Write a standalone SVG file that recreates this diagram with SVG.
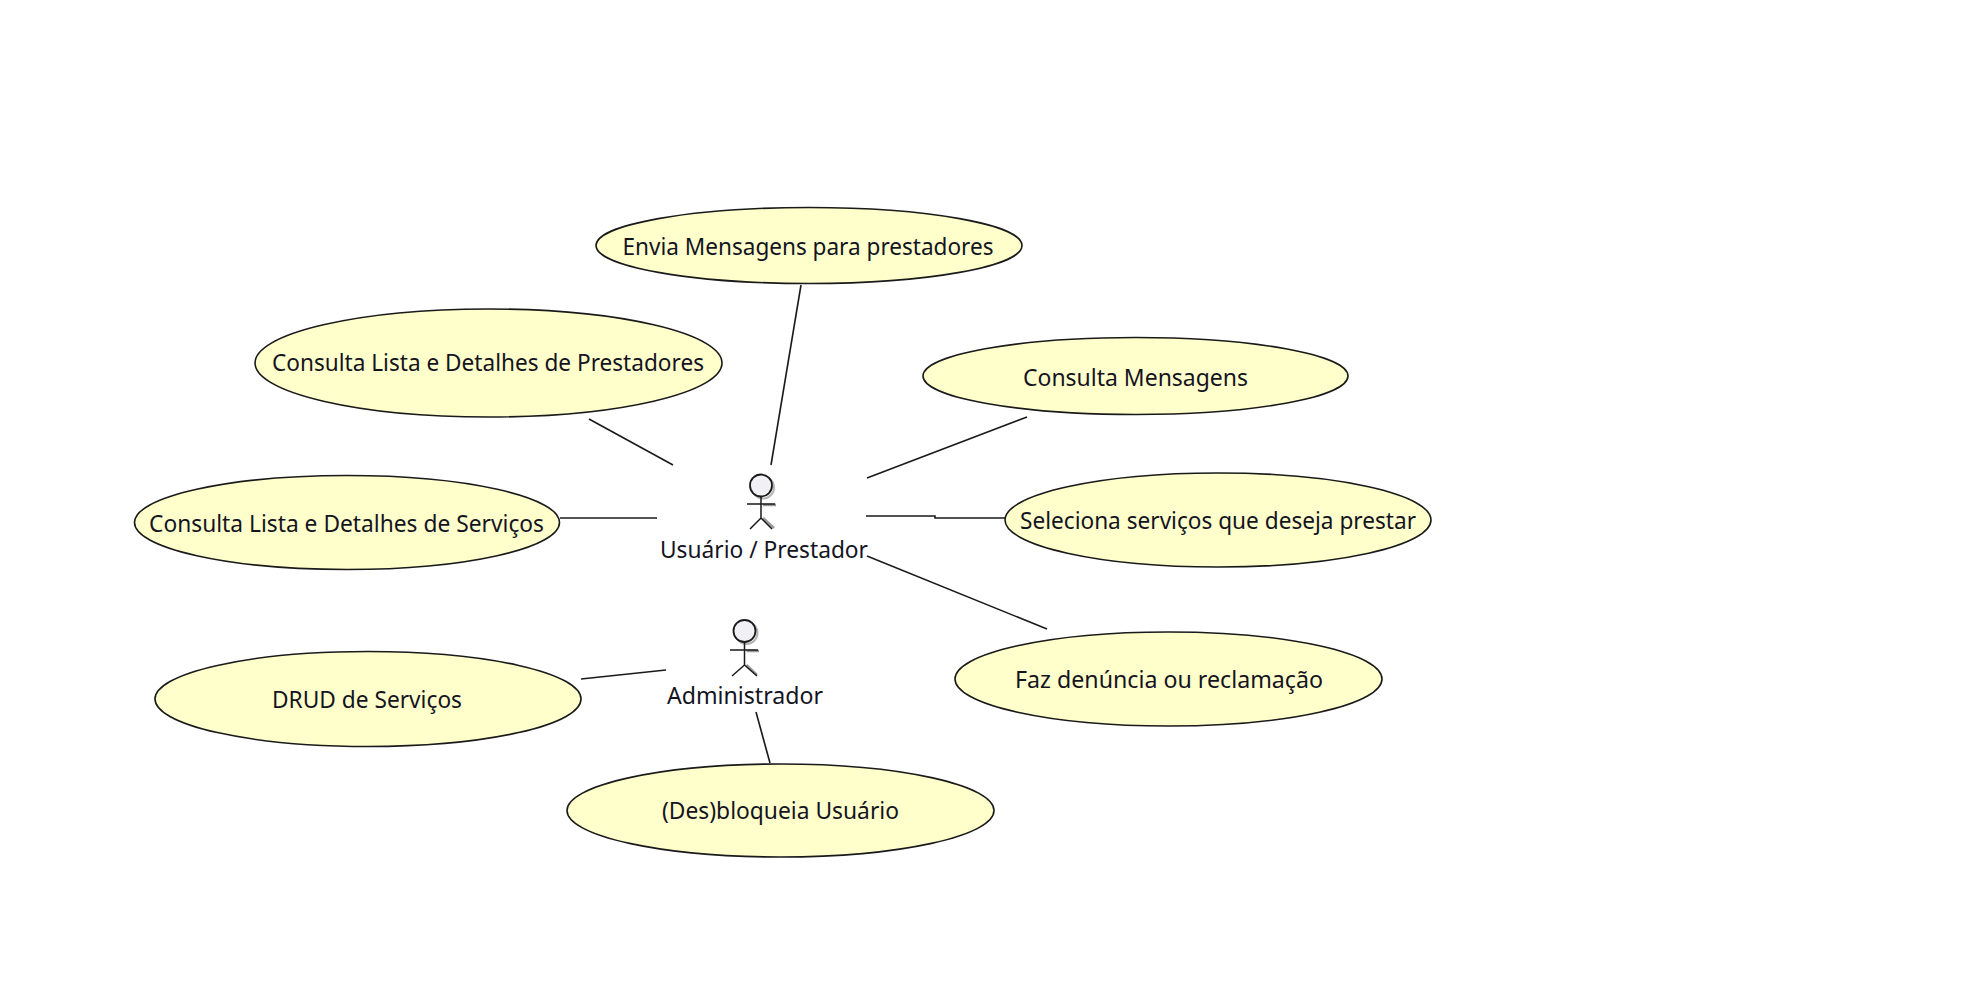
<svg xmlns="http://www.w3.org/2000/svg" width="1971" height="1000" viewBox="0 0 1971 1000">
<style>
.bg{fill:#fff}
.uc{fill:#ffffcc;stroke:#1a1a1a;stroke-width:1.6}
.con{stroke:#1a1a1a;stroke-width:1.6;fill:none}
.t{font-family:"Noto Sans","Liberation Sans",sans-serif;font-size:24px;fill:#14141f}
.head{fill:#f0f0f5;stroke:#1a1a1a;stroke-width:1.8}
.limb{stroke:#1a1a1a;stroke-width:1.5;fill:none}
.sh{stroke:#9a9a9a;stroke-width:2.5;fill:none}
.shh{fill:none;stroke:#b5b5b5;stroke-width:2}
</style>
<rect class="bg" width="1971" height="1000"/>
<g id="connectors">
<line class="con" x1="801" y1="285" x2="771" y2="465"/>
<line class="con" x1="589" y1="419" x2="673" y2="465"/>
<line class="con" x1="560" y1="518" x2="657" y2="518"/>
<line class="con" x1="867" y1="478" x2="1027" y2="417"/>
<polyline class="con" points="866,516 935,516 935,518 1005,518"/>
<line class="con" x1="867" y1="556" x2="1047" y2="629"/>
<line class="con" x1="581" y1="679" x2="666" y2="670"/>
<line class="con" x1="756" y1="712" x2="770" y2="763"/>
</g>
<g id="uc-envia"><ellipse class="uc" cx="809" cy="245.500" rx="213" ry="38"/><text class="t" x="622.500" y="255" textLength="371" lengthAdjust="spacingAndGlyphs">Envia Mensagens para prestadores</text></g>
<g id="uc-prestadores"><ellipse class="uc" cx="488.500" cy="363" rx="233.500" ry="54"/><text class="t" x="272" y="371" textLength="432" lengthAdjust="spacingAndGlyphs">Consulta Lista e Detalhes de Prestadores</text></g>
<g id="uc-servicos"><ellipse class="uc" cx="347" cy="522.500" rx="212.500" ry="47"/><text class="t" x="149" y="531.500" textLength="395" lengthAdjust="spacingAndGlyphs">Consulta Lista e Detalhes de Serviços</text></g>
<g id="uc-drud"><ellipse class="uc" cx="368" cy="699" rx="213" ry="47.500"/><text class="t" x="272" y="708" textLength="190" lengthAdjust="spacingAndGlyphs">DRUD de Serviços</text></g>
<g id="uc-bloqueia"><ellipse class="uc" cx="780.500" cy="810.500" rx="213.500" ry="46.500"/><text class="t" x="662" y="819" textLength="237" lengthAdjust="spacingAndGlyphs">(Des)bloqueia Usuário</text></g>
<g id="uc-mensagens"><ellipse class="uc" cx="1135.500" cy="376" rx="212.500" ry="38.500"/><text class="t" x="1023" y="386" textLength="225" lengthAdjust="spacingAndGlyphs">Consulta Mensagens</text></g>
<g id="uc-seleciona"><ellipse class="uc" cx="1218" cy="520" rx="213" ry="47"/><text class="t" x="1020" y="529" textLength="396" lengthAdjust="spacingAndGlyphs">Seleciona serviços que deseja prestar</text></g>
<g id="uc-faz"><ellipse class="uc" cx="1168.500" cy="679" rx="213.500" ry="47"/><text class="t" x="1015" y="687.500" textLength="308" lengthAdjust="spacingAndGlyphs">Faz denúncia ou reclamação</text></g>
<g id="actor-usuario">
<circle class="shh" cx="763" cy="487.500" r="11"/>
<path class="sh" d="M763,505H776M763,518L774,528"/>
<circle class="head" cx="761" cy="485.500" r="11"/>
<path class="limb" d="M761,496.500V518M747,504H775M761,518L750,529M761,518L772,529"/>
<text class="t" x="660" y="558" textLength="208" lengthAdjust="spacingAndGlyphs">Usuário / Prestador</text>
</g>
<g id="actor-administrador">
<circle class="shh" cx="746.500" cy="633" r="11"/>
<path class="sh" d="M746.500,651H759M746.500,665L757,675"/>
<circle class="head" cx="744.500" cy="631" r="11"/>
<path class="limb" d="M744.500,642V665M730,650H758M744.500,665L732,676M744.500,665L757,676"/>
<text class="t" x="667" y="704" textLength="156" lengthAdjust="spacingAndGlyphs">Administrador</text>
</g>
</svg>
